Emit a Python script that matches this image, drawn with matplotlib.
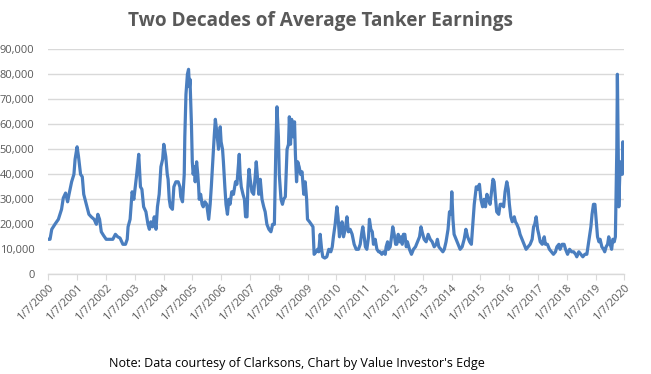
import matplotlib
matplotlib.use("Agg")
import matplotlib.pyplot as plt
from matplotlib.ticker import FuncFormatter
import pandas as pd
import numpy as np

# decimal year of each reading (0 = 1/7/2000)
years = [
    2000.00, 2000.06, 2000.12, 2000.23, 2000.35, 2000.46, 2000.52, 2000.60, 2000.67, 2000.72,
    2000.81, 2000.89, 2000.93, 2001.00, 2001.05, 2001.12, 2001.18, 2001.23, 2001.32, 2001.41,
    2001.49, 2001.59, 2001.67, 2001.72, 2001.78, 2001.84, 2001.92, 2002.01, 2002.13, 2002.24,
    2002.33, 2002.41, 2002.49, 2002.59, 2002.68, 2002.74, 2002.77, 2002.84, 2002.91, 2002.97,
    2003.02, 2003.07, 2003.14, 2003.20, 2003.25, 2003.31, 2003.39, 2003.46, 2003.51, 2003.56,
    2003.62, 2003.68, 2003.74, 2003.79, 2003.85, 2003.91, 2003.97,
    2004.01, 2004.08, 2004.13, 2004.16, 2004.20, 2004.24, 2004.31, 2004.36, 2004.43, 2004.51,
    2004.57, 2004.60, 2004.66, 2004.72, 2004.74, 2004.78, 2004.83, 2004.87, 2004.90, 2004.92,
    2004.97, 2005.00, 2005.03, 2005.07, 2005.10, 2005.15, 2005.19, 2005.22, 2005.24, 2005.29,
    2005.34, 2005.38, 2005.44, 2005.50, 2005.57, 2005.62, 2005.66, 2005.71, 2005.76, 2005.80,
    2005.85, 2005.91, 2005.97, 2006.00, 2006.05, 2006.08, 2006.13, 2006.17, 2006.22, 2006.27,
    2006.31, 2006.37, 2006.43, 2006.50, 2006.55, 2006.59, 2006.63, 2006.66, 2006.70, 2006.76,
    2006.81, 2006.85, 2006.90, 2006.93, 2006.97, 2007.01, 2007.07, 2007.13, 2007.19, 2007.22,
    2007.27, 2007.31, 2007.36, 2007.42, 2007.48, 2007.53, 2007.59, 2007.66, 2007.73, 2007.79,
    2007.85, 2007.90, 2007.94, 2007.99, 2008.02, 2008.08, 2008.13, 2008.17, 2008.23, 2008.29,
    2008.34, 2008.37, 2008.41, 2008.45, 2008.50, 2008.55, 2008.58, 2008.62, 2008.66, 2008.71,
    2008.76, 2008.81, 2008.87, 2008.92, 2008.97,
    2009.00, 2009.07, 2009.13, 2009.19, 2009.23, 2009.30, 2009.35, 2009.39, 2009.44, 2009.49,
    2009.53, 2009.60, 2009.67, 2009.74, 2009.81, 2009.86, 2009.90, 2009.96, 2010.02, 2010.06,
    2010.11, 2010.16, 2010.20, 2010.25, 2010.31, 2010.37, 2010.42, 2010.48, 2010.55, 2010.62,
    2010.69, 2010.77, 2010.83, 2010.89, 2010.92, 2010.97, 2011.01, 2011.06, 2011.12, 2011.15,
    2011.20, 2011.25, 2011.29, 2011.35, 2011.41, 2011.47, 2011.52, 2011.58, 2011.64, 2011.70,
    2011.73, 2011.78, 2011.81, 2011.87, 2011.93, 2011.96, 2012.01, 2012.06, 2012.10, 2012.15,
    2012.19, 2012.24, 2012.29, 2012.33, 2012.38, 2012.43, 2012.47, 2012.54, 2012.61, 2012.68,
    2012.75, 2012.82, 2012.89, 2012.94, 2012.98, 2013.05, 2013.12, 2013.19, 2013.26, 2013.33,
    2013.40, 2013.47, 2013.51, 2013.56, 2013.63, 2013.70, 2013.75, 2013.81, 2013.88, 2013.93,
    2013.98, 2014.01,
    2014.05, 2014.09, 2014.16, 2014.23, 2014.30, 2014.37, 2014.44, 2014.50, 2014.56, 2014.63,
    2014.69, 2014.74, 2014.79, 2014.86, 2014.90, 2014.97, 2015.02, 2015.08, 2015.13, 2015.18,
    2015.23, 2015.28, 2015.34, 2015.39, 2015.44, 2015.48, 2015.53, 2015.57, 2015.64, 2015.69,
    2015.75, 2015.81, 2015.86, 2015.92, 2015.97, 2016.01, 2016.06, 2016.11, 2016.18, 2016.22,
    2016.27, 2016.34, 2016.38, 2016.45, 2016.52, 2016.59, 2016.66, 2016.73, 2016.80, 2016.85,
    2016.89, 2016.94, 2016.99, 2017.03, 2017.08, 2017.15, 2017.22, 2017.26, 2017.33, 2017.40,
    2017.47, 2017.54, 2017.61, 2017.66, 2017.73, 2017.77, 2017.84, 2017.91, 2017.96, 2018.03,
    2018.10, 2018.17, 2018.24, 2018.31, 2018.35, 2018.42, 2018.49, 2018.56, 2018.63, 2018.70,
    2018.75, 2018.79, 2018.84, 2018.88, 2018.93, 2018.98, 2019.02, 2019.07, 2019.12, 2019.16,
    2019.22, 2019.28, 2019.32, 2019.37, 2019.42, 2019.46, 2019.51, 2019.56, 2019.60, 2019.65,
    2019.69, 2019.74, 2019.76, 2019.79, 2019.81, 2019.83, 2019.86, 2019.89, 2019.93, 2019.95,
    2019.97, 2019.99,
]

# average tanker earnings, $/day
earnings = [
    14000, 14000, 18000, 20000, 22000, 26000, 30500, 32500, 29000, 32000,
    37000, 40000, 46000, 51000, 47000, 40000, 39000, 32000, 28000, 24000,
    23000, 22000, 20000, 24000, 22000, 17000, 15500, 14000, 14000, 14000,
    16000, 15000, 14500, 12000, 12000, 14000, 19000, 22000, 33000, 30000,
    35000, 40000, 48000, 35000, 34000, 27000, 25000, 20000, 18000, 21000,
    19000, 23000, 18000, 27000, 32000, 43000, 46000,
    52000, 47000, 40000, 38000, 30000, 27000, 26000, 35000, 37000, 37000,
    35000, 31000, 29000, 40000, 55000, 72000, 80000, 82000, 75000, 78000,
    60000, 45000, 40000, 43000, 37000, 45000, 40000, 35000, 30000, 32000,
    28000, 27000, 29000, 28000, 22000, 28000, 35000, 45000, 55000, 62000,
    57000, 50000, 59000, 53000, 50000, 45000, 35000, 28000, 24000, 30000,
    28000, 33000, 32000, 37000, 36000, 42000, 48000, 40000, 35000, 32000,
    30000, 23000, 23000, 35000, 42000, 38000, 33000, 32000, 40000, 45000,
    38000, 32000, 38000, 30000, 27000, 25000, 20000, 18000, 17000, 20000,
    20000, 50000, 67000, 55000, 40000, 30000, 28000, 30000, 31000, 50000,
    52000, 63000, 52000, 62000, 55000, 61000, 48000, 37000, 45000, 43000,
    40000, 41000, 32000, 37000, 30000,
    22000, 21000, 20000, 19000, 8000, 9000, 10000, 9000, 16000, 10000,
    7000, 6500, 7000, 10000, 9000, 11000, 15000, 20000, 27000, 23000,
    15000, 18000, 21000, 15000, 18000, 23000, 17000, 18000, 16000, 12000,
    10000, 10000, 12000, 17000, 19000, 15000, 11000, 10000, 15000, 22000,
    18000, 17000, 12000, 14000, 10000, 9000, 9000, 8000, 9000, 8000,
    11000, 13000, 10000, 11000, 16000, 19000, 16000, 12000, 12000, 16000,
    13000, 15000, 12000, 16000, 16000, 11000, 13000, 10000, 8000, 10000,
    11000, 13000, 15000, 19000, 17000, 14000, 13000, 16000, 14000, 13000,
    11000, 12000, 14000, 11000, 10000, 9000, 10000, 13000, 18000, 25000,
    24000, 33000,
    22000, 16000, 14000, 12000, 10000, 11000, 14000, 18000, 15000, 13000,
    12000, 20000, 28000, 35000, 34000, 36000, 30000, 27000, 30000, 27000,
    32000, 30000, 28000, 33000, 38000, 37000, 30000, 25000, 24000, 28000,
    28000, 27000, 33000, 37000, 34000, 28000, 23000, 21000, 23000, 21000,
    20000, 18000, 16000, 14000, 12000, 10000, 11000, 12000, 14000, 19000,
    20000, 23000, 18000, 16000, 13000, 12000, 15000, 12000, 12000, 10000,
    9000, 8000, 9000, 11000, 12000, 10000, 12000, 12000, 10000, 8000,
    10000, 9000, 9000, 8000, 7000, 9000, 8000, 7000, 8000, 8000,
    12000, 15000, 19000, 24000, 28000, 28000, 22000, 15000, 13000, 14000,
    11000, 10000, 9000, 11000, 12000, 15000, 12000, 10000, 14000, 13000,
    15000, 50000, 80000, 50000, 27000, 35000, 45000, 43000, 40000, 53000,
    45000, 42000,
]

tick_years = list(range(2000, 2021))
title = "Two Decades of Average Tanker Earnings"
note = "Note: Data courtesy of Clarksons, Chart by Value Investor's Edge"

start = pd.Timestamp("2000-01-07")
dates = [start + pd.Timedelta(days=(y - 2000) * 365.25) for y in years]
tick_dates = [pd.Timestamp(f"{y}-01-07") for y in tick_years]
tick_labels = [f"1/7/{y}" for y in tick_years]

fig = plt.figure(figsize=(6.51, 3.74), dpi=100)
ax = fig.add_axes([48.3 / 651, 1 - 274.3 / 374, (624.3 - 48.3) / 651, (274.3 - 49.3) / 374])

ax.plot(dates, earnings, color="#4a7ebf", linewidth=2.3, solid_joinstyle="round")

ax.set_ylim(0, 90000)
ax.set_yticks(np.arange(0, 90001, 10000))
ax.yaxis.set_major_formatter(FuncFormatter(lambda v, p: f"{int(v):,}"))
ax.set_xlim(tick_dates[0], tick_dates[-1])
ax.set_xticks(tick_dates)
ax.set_xticklabels(tick_labels, rotation=45, ha="right", rotation_mode="anchor")

ax.grid(axis="y", color="#d9d9d9", linewidth=1)
ax.set_axisbelow(True)
for s in ["left", "right", "top"]:
    ax.spines[s].set_visible(False)
ax.spines["bottom"].set_color("#d9d9d9")
ax.spines["bottom"].set_linewidth(1)
ax.tick_params(axis="y", length=0, pad=10, labelsize=8, labelcolor="#595959")
ax.tick_params(axis="x", length=4, color="#d9d9d9", pad=2, labelsize=8, labelcolor="#595959")
for lbl in ax.get_xticklabels() + ax.get_yticklabels():
    lbl.set_fontfamily("Open Sans")

fig.text(320.5 / 651, 1 - 21 / 374, title, ha="center", va="center", fontsize=13.7,
         fontweight="bold", color="#595959", fontfamily="Open Sans")
fig.text(109 / 651, 1 - 363 / 374, note, ha="left", va="center", fontsize=9,
         color="#000000", fontfamily="Open Sans")

fig.savefig("out.png", dpi=100)
